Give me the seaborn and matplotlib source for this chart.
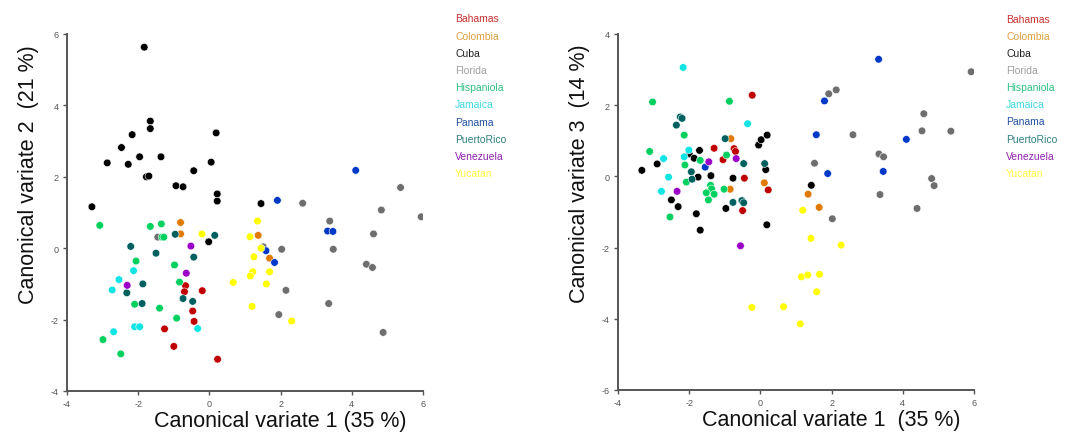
import matplotlib
matplotlib.use("Agg")
import matplotlib.pyplot as plt
import seaborn as sns
import pandas as pd

# ---------------- data: (CV1, CV2) ----------------
bahamas_12 = [(-0.67, -1.05), (-0.70, -1.22), (-0.20, -1.19), (-0.47, -1.76), (-0.43, -2.05),
              (-1.26, -2.26), (-1.00, -2.75), (0.23, -3.11)]
colombia_12 = [(-0.81, 0.72), (-0.81, 0.40), (1.37, 0.36), (1.69, -0.28)]
cuba_12 = [(-1.83, 5.63), (-3.30, 1.16), (-2.87, 2.39), (-2.47, 2.82), (-2.17, 3.18), (-2.28, 2.35),
           (-1.96, 2.56), (-1.66, 3.56), (-1.66, 3.35), (-1.36, 2.56), (-1.77, 2.00), (-1.70, 2.02),
           (-0.94, 1.75), (-0.74, 1.72), (-0.44, 2.17), (0.05, 2.41), (0.19, 3.23), (0.22, 1.52),
           (0.22, 1.32), (1.45, 1.25), (-0.02, 0.18)]
florida_12 = [(5.37, 1.70), (2.62, 1.26), (4.83, 1.07), (5.95, 0.88), (3.38, 0.76), (4.61, 0.40),
              (2.03, -0.03), (3.48, -0.03), (4.41, -0.45), (4.58, -0.54), (2.15, -1.18), (3.35, -1.55),
              (1.95, -1.86), (4.88, -2.36), (1.51, 0.04), (-1.45, 0.31)]
hispaniola_12 = [(-1.66, 0.61), (-1.35, 0.68), (-1.33, 0.31), (-1.28, 0.31), (-2.06, -0.36),
                 (-0.98, -0.47), (-0.84, -0.95), (-2.10, -1.57), (-1.40, -1.68), (-0.92, -1.96),
                 (-2.49, -2.96), (-3.08, 0.64), (-2.99, -2.56)]
jamaica_12 = [(-2.13, -0.63), (-2.54, -0.88), (-2.73, -1.17), (-2.10, -2.20), (-1.96, -2.20),
              (-2.69, -2.34), (-0.33, -2.25)]
panama_12 = [(1.91, 1.34), (4.11, 2.18), (3.32, 0.48), (3.47, 0.47), (1.59, -0.07), (1.83, -0.40)]
puertorico_12 = [(-0.96, 0.39), (0.15, 0.36), (-2.21, 0.05), (-1.50, -0.14), (-0.44, -0.25),
                 (-1.87, -1.00), (-2.32, -1.25), (-1.89, -1.55), (-0.74, -1.41), (-0.47, -1.49)]
venezuela_12 = [(-0.52, 0.06), (-0.65, -0.70), (-2.31, -1.04)]
yucatan_12 = [(-0.21, 0.40), (0.67, -0.96), (1.35, 0.76), (1.14, 0.32), (1.45, 0.00), (1.25, -0.24),
              (1.22, -0.66), (1.15, -0.78), (1.69, -0.66), (1.60, -1.00), (1.20, -1.63), (2.31, -2.04)]

# ---------------- data: (CV1, CV3) ----------------
bahamas_13 = [(-0.23, 2.28), (-1.30, 0.79), (-0.74, 0.78), (-0.70, 0.70), (-1.05, 0.47),
              (-0.45, -0.05), (0.22, -0.38), (-0.50, -0.96)]
colombia_13 = [(-0.83, 1.06), (-0.85, -0.36), (0.11, -0.18), (1.34, -0.50), (1.65, -0.87)]
cuba_13 = [(-3.33, 0.17), (-2.90, 0.35), (-2.00, 0.63), (-1.86, 0.51), (-1.71, 0.73), (-1.39, 0.02),
           (-1.75, -0.02), (-2.50, -0.66), (-2.31, -0.85), (-1.80, -1.05), (-1.69, -1.51),
           (-0.97, -0.90), (-0.77, -0.05), (-0.05, 0.88), (0.02, 1.03), (0.19, 1.16), (0.15, 0.19),
           (0.18, -1.36), (1.43, -0.25)]
florida_13 = [(5.92, 2.94), (1.92, 2.32), (2.13, 2.43), (4.59, 1.76), (2.60, 1.17), (4.54, 1.28),
              (5.35, 1.27), (3.33, 0.63), (3.46, 0.55), (1.52, 0.37), (4.81, -0.06), (4.88, -0.26),
              (3.36, -0.51), (4.40, -0.90), (2.02, -1.19)]
hispaniola_13 = [(-3.03, 2.09), (-0.87, 2.11), (-2.14, 1.16), (-3.11, 0.70), (-2.12, 0.32),
                 (-1.69, 0.45), (-2.08, -0.16), (-1.40, -0.25), (-1.37, -0.35), (-1.52, -0.46),
                 (-1.30, -0.50), (-1.46, -0.66), (-1.02, -0.36), (-2.54, -1.14), (-0.95, 0.60)]
jamaica_13 = [(-2.17, 3.06), (-0.36, 1.48), (-2.01, 0.74), (-2.14, 0.55), (-2.72, 0.50),
              (-2.58, -0.02), (-2.78, -0.42)]
panama_13 = [(3.32, 3.29), (1.80, 2.12), (1.57, 1.17), (4.10, 1.04), (1.89, 0.08), (3.45, 0.14),
             (-1.55, 0.26)]
puertorico_13 = [(-2.25, 1.67), (-2.20, 1.63), (-2.36, 1.44), (-1.94, 0.13), (-1.92, -0.08),
                 (-0.99, 1.06), (-0.47, 0.36), (0.12, 0.36), (-0.77, -0.73), (-0.52, -0.68),
                 (-0.47, -0.74)]
venezuela_13 = [(-1.45, 0.41), (-0.68, 0.50), (-2.34, -0.42), (-0.56, -1.95)]
yucatan_13 = [(1.19, -0.95), (1.42, -1.74), (2.27, -1.93), (1.15, -2.82), (1.33, -2.77), (1.66, -2.75),
              (1.58, -3.24), (0.65, -3.66), (1.12, -4.14), (-0.24, -3.68)]

regions = ["Bahamas", "Colombia", "Cuba", "Florida", "Hispaniola",
           "Jamaica", "Panama", "PuertoRico", "Venezuela", "Yucatan"]
point_colors = ["#c00000", "#e07a00", "#000000", "#6e6e6e", "#00d060",
                "#10e4e4", "#0038c8", "#006060", "#9a00c8", "#ffff00"]
legend_colors = ["#c83030", "#e0a040", "#202020", "#a0a0a0", "#30c080",
                 "#40d8e0", "#2050a0", "#308080", "#9020b0", "#ffff40"]
xticks = [-4, -2, 0, 2, 4, 6]
yticks_left = [-4, -2, 0, 2, 4, 6]
yticks_right = [-6, -4, -2, 0, 2, 4]

data_12 = [bahamas_12, colombia_12, cuba_12, florida_12, hispaniola_12,
           jamaica_12, panama_12, puertorico_12, venezuela_12, yucatan_12]
data_13 = [bahamas_13, colombia_13, cuba_13, florida_13, hispaniola_13,
           jamaica_13, panama_13, puertorico_13, venezuela_13, yucatan_13]


def to_frame(groups, ycol):
    rows = []
    for reg, pts in zip(regions, groups):
        for x, y in pts:
            rows.append({"region": reg, "CV1": x, ycol: y})
    return pd.DataFrame(rows)


df12 = to_frame(data_12, "CV2")
df13 = to_frame(data_13, "CV3")

sns.set_theme(style="white")
plt.rcParams["font.family"] = ["Liberation Sans", "DejaVu Sans"]
plt.rcParams["axes.unicode_minus"] = False

fig = plt.figure(figsize=(10.72, 4.39), dpi=100)
ax1 = fig.add_axes([67 / 1072, 47 / 439, 356 / 1072, 357 / 439])
ax2 = fig.add_axes([618 / 1072, 48 / 439, 356 / 1072, 356 / 439])
palette = dict(zip(regions, point_colors))


def style(ax, df, ycol, yticks, ylabel, xlabel):
    sns.scatterplot(data=df, x="CV1", y=ycol, hue="region", hue_order=regions,
                    palette=palette, s=30, edgecolor="white", linewidth=0.4,
                    legend=False, ax=ax)
    ax.set_xlim(xticks[0], xticks[-1])
    ax.set_ylim(yticks[0], yticks[-1])
    ax.set_xticks(xticks)
    ax.set_yticks(yticks)
    for s in ["top", "right"]:
        ax.spines[s].set_visible(False)
    for s in ["left", "bottom"]:
        ax.spines[s].set_color("#555555")
        ax.spines[s].set_linewidth(1.4)
    ax.tick_params(axis="both", direction="out", length=3, width=1, color="#555555",
                   labelsize=6.5, labelcolor="#555555", pad=3, left=True, bottom=True)
    ax.set_xlabel(xlabel, fontsize=15.5, color="#111111")
    ax.set_ylabel(ylabel, fontsize=15.5, color="#111111")
    ax.xaxis.set_label_coords(0.60, -0.052)
    ax.yaxis.set_label_coords(-0.08, 0.61)
    for i, (reg, col) in enumerate(zip(regions, legend_colors)):
        ax.text(1.09, (392 - 19.5 - i * 17.2) / 357, reg,
                transform=ax.transAxes, fontsize=7.5, color=col, ha="left", va="center")
    ax.patch.set_alpha(0)


style(ax1, df12, "CV2", yticks_left, "Canonical variate 2  (21 %)", "Canonical variate 1 (35 %)")
style(ax2, df13, "CV3", yticks_right, "Canonical variate 3  (14 %)", "Canonical variate 1  (35 %)")

fig.savefig("out.png", dpi=100)
